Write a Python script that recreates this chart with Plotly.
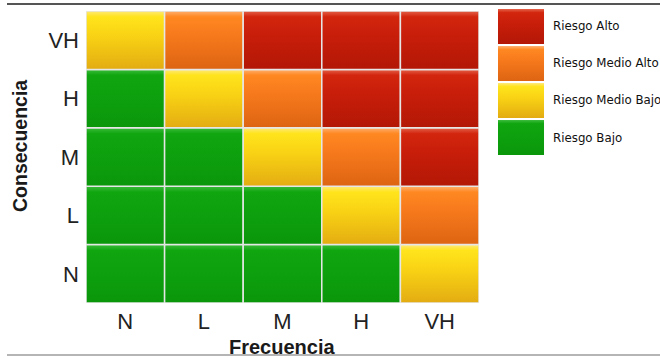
import plotly.graph_objects as go

# Axis categories
frecuencia = ["N", "L", "M", "H", "VH"]
consecuencia = ["N", "L", "M", "H", "VH"]

# Risk level per cell: rows follow consecuencia (N -> VH), columns follow frecuencia
# 0 = Bajo, 1 = Medio Bajo, 2 = Medio Alto, 3 = Alto
riesgo = [
    [0, 0, 0, 0, 1],  # N
    [0, 0, 0, 1, 2],  # L
    [0, 0, 1, 2, 3],  # M
    [0, 1, 2, 3, 3],  # H
    [1, 2, 3, 3, 3],  # VH
]

# Legend entries, top to bottom
niveles = ["Riesgo Alto", "Riesgo Medio Alto", "Riesgo Medio Bajo", "Riesgo Bajo"]
nivel_idx = [3, 2, 1, 0]

# Vertical shading for each level: bottom -> top
sombreado = {
    0: [[0, "#0a970a"], [0.9, "#10a610"], [1, "#3cbc3c"]],
    1: [[0, "#e3ac12"], [0.55, "#f8d114"], [0.9, "#ffe41c"], [1, "#ffe97a"]],
    2: [[0, "#dd6412"], [0.6, "#f77a1c"], [0.9, "#ff8822"], [1, "#ffb070"]],
    3: [[0, "#b31706"], [0.6, "#c81e0a"], [0.9, "#d3260e"], [1, "#e4624a"]],
}

fig = go.Figure()

# Matrix cells
for j, fila in enumerate(riesgo):
    for i, nivel in enumerate(fila):
        x0, x1 = i - 0.5, i + 0.5
        y0, y1 = j - 0.5, j + 0.5
        fig.add_trace(go.Scatter(
            x=[x0, x1, x1, x0, x0], y=[y0, y0, y1, y1, y0],
            mode="lines", fill="toself",
            fillgradient=dict(type="vertical", colorscale=sombreado[nivel],
                              start=y0, stop=y1),
            line=dict(color="#e6e6e6", width=1.5),
            hoverinfo="skip", showlegend=False,
            xaxis="x", yaxis="y",
        ))

# Legend swatches
for k, (nombre, nivel) in enumerate(zip(niveles, nivel_idx)):
    pos = len(niveles) - 1 - k
    y0, y1 = pos - 0.47, pos + 0.47
    fig.add_trace(go.Scatter(
        x=[0, 0.284, 0.284, 0, 0], y=[y0, y0, y1, y1, y0],
        mode="lines", fill="toself",
        fillgradient=dict(type="vertical", colorscale=sombreado[nivel],
                          start=y0, stop=y1),
        line=dict(color="rgba(0,0,0,0)", width=0),
        hoverinfo="skip", showlegend=False,
        xaxis="x2", yaxis="y2",
    ))
    fig.add_annotation(
        x=0.33, y=pos, xref="x2", yref="y2", text=nombre,
        showarrow=False, xanchor="left", yanchor="middle",
        font=dict(family="DejaVu Sans", size=11.8, color="#111"),
    )

W, H = 660, 358
tick_font = dict(family="Liberation Sans", size=22, color="#222")
fig.update_layout(
    width=W, height=H,
    margin=dict(l=0, r=0, t=0, b=0),
    paper_bgcolor="white", plot_bgcolor="white",
    showlegend=False,
    xaxis=dict(
        domain=[86 / W, 479 / W], range=[-0.5, 4.5],
        tickvals=list(range(5)), ticktext=frecuencia,
        showgrid=False, zeroline=False, showline=False, ticks="",
        ticklabelstandoff=3, tickfont=tick_font,
    ),
    yaxis=dict(
        domain=[1 - 303 / H, 1 - 11 / H], range=[-0.5, 4.5],
        tickvals=list(range(5)), ticktext=consecuencia,
        showgrid=False, zeroline=False, showline=False, ticks="",
        ticklabelstandoff=6, tickfont=tick_font,
    ),
    xaxis2=dict(domain=[498 / W, 1.0], range=[0, 1], visible=False, anchor="y2"),
    yaxis2=dict(domain=[1 - 156 / H, 1 - 8 / H], range=[-0.5, 3.5], visible=False, anchor="x2"),
)

# Axis titles
fig.add_annotation(
    x=282 / W, y=1 - 347 / H, xref="paper", yref="paper", text="<b>Frecuencia</b>",
    showarrow=False, xanchor="center", yanchor="middle",
    font=dict(family="Liberation Sans", size=20, color="#1a1a1a"),
)
fig.add_annotation(
    x=20 / W, y=1 - 146 / H, xref="paper", yref="paper", text="<b>Consecuencia</b>",
    showarrow=False, textangle=-90, xanchor="center", yanchor="middle",
    font=dict(family="Liberation Sans", size=19.5, color="#1a1a1a"),
)

# Frame rules above and below the figure
fig.add_shape(type="line", xref="paper", yref="paper",
              x0=7 / W, x1=1, y0=1 - 4 / H, y1=1 - 4 / H,
              line=dict(color="#555", width=2))
fig.add_shape(type="line", xref="paper", yref="paper",
              x0=7 / W, x1=1, y0=1 - 355 / H, y1=1 - 355 / H,
              line=dict(color="#b5b5b5", width=2))

fig.write_html("out.html")
